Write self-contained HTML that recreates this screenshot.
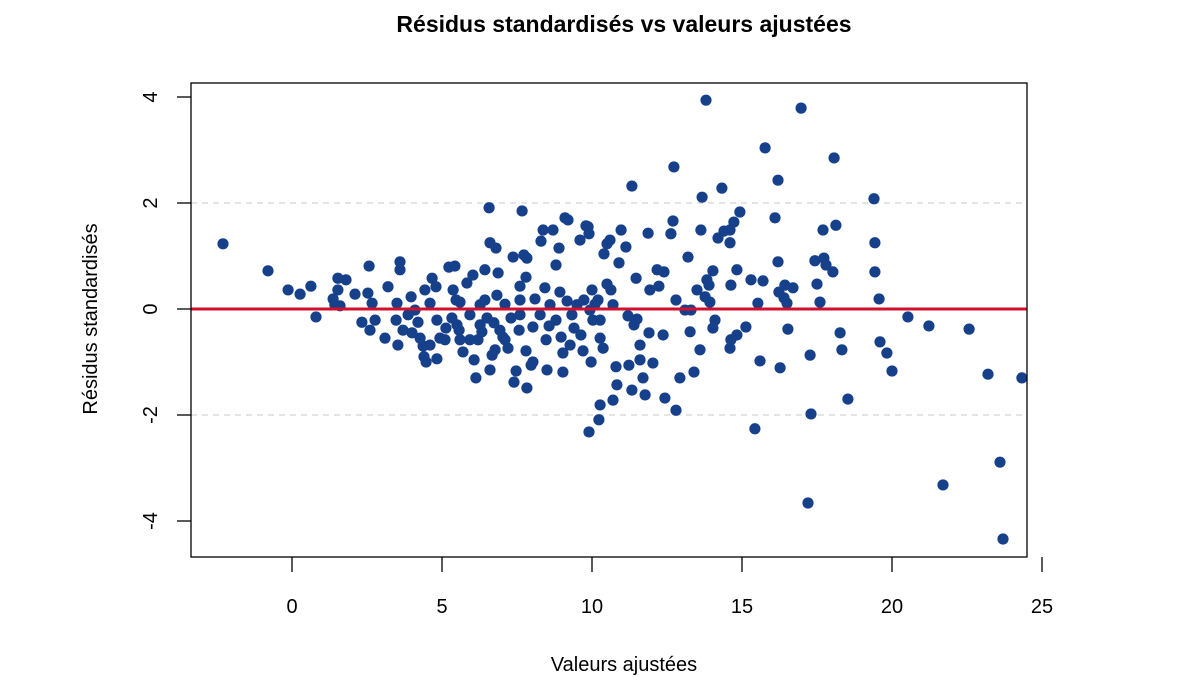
<!DOCTYPE html>
<html><head><meta charset="utf-8"><style>
body{margin:0;background:#fff;}
svg{display:block;font-family:"Liberation Sans",Arial,sans-serif;}
</style></head><body>
<svg id="chart" width="1190" height="695">
<text x="624" y="32" text-anchor="middle" font-size="23" font-weight="bold">Résidus standardisés vs valeurs ajustées</text>
<text x="624" y="671" text-anchor="middle" font-size="20">Valeurs ajustées</text>
<text transform="translate(97,319) rotate(-90)" text-anchor="middle" font-size="20">Résidus standardisés</text>
<g id="grid"></g><g id="axes"></g><g id="pts"></g>
<rect x="191" y="83" width="836" height="474" fill="none" stroke="#000" stroke-width="1.3"/>
</svg>
<script>
const xTicks=[0,5,10,15,20,25];
const yTicks=[-4,-2,0,2,4];
const gridY=[-2,2];
const xs=[-2.3,-0.8,-0.13,0.27,0.63,0.8,1.37,1.43,1.53,1.53,1.8,1.6,2.1,2.33,2.57,2.53,2.67,2.77,2.6,3.1,3.2,3.6,3.6,3.5,3.47,3.7,3.53,3.97,3.87,4.0,4.2,4.37,4.4,4.43,4.6,4.67,4.8,4.83,4.93,4.83,4.47,5.13,5.23,5.43,5.37,5.47,5.33,5.5,5.6,5.7,5.93,5.83,6.03,6.07,6.13,6.2,6.33,6.43,6.43,6.6,6.57,6.5,6.6,6.67,6.73,6.83,6.8,6.87,7.1,7.03,7.2,7.3,7.37,7.4,7.47,7.57,7.6,7.67,7.73,7.8,7.83,7.8,7.83,7.97,8.03,8.03,8.1,8.3,8.37,8.47,8.5,8.57,8.6,8.7,8.8,8.9,8.97,9.03,9.03,9.1,9.2,9.17,9.33,9.4,9.5,9.6,9.63,9.7,9.73,9.8,9.87,9.9,9.9,9.97,10.0,10.03,10.1,10.2,10.23,10.27,10.27,10.37,10.4,10.5,10.6,10.5,10.63,10.7,10.8,10.83,10.7,10.9,10.97,11.13,11.2,11.23,11.33,11.33,11.4,11.47,11.5,11.6,11.6,11.7,11.77,11.87,11.9,11.93,12.03,12.17,12.23,12.37,12.43,12.4,12.73,12.7,12.63,12.8,12.8,12.93,13.2,13.1,13.27,13.3,13.4,13.5,13.6,13.63,13.67,13.77,13.8,13.83,13.9,13.93,14.03,14.03,14.1,14.33,14.2,14.4,14.6,14.6,14.73,14.93,14.63,14.63,14.6,14.83,14.83,15.13,15.3,15.43,15.53,15.6,15.77,15.7,16.1,16.2,16.2,16.23,16.27,16.4,16.5,16.43,16.53,16.7,16.97,17.27,17.2,17.3,17.43,17.5,17.6,17.7,17.73,17.8,18.07,18.13,18.03,18.27,18.33,18.53,19.4,19.43,19.43,19.57,19.6,19.83,20.0,20.53,21.23,21.7,22.57,23.2,23.6,23.7,24.33,7.1,6.77,5.93,5.57,5.1,4.6,4.27,4.1,5.6,6.27,7.6,8.27,8.8,9.27,9.93,10.27,8.93,8.43,7.6,6.93,6.27];
const ys=[1.23,0.72,0.36,0.28,0.43,-0.15,0.19,0.08,0.58,0.36,0.55,0.06,0.28,-0.25,0.81,0.3,0.11,-0.21,-0.4,-0.55,0.42,0.89,0.74,0.11,-0.21,-0.4,-0.68,0.23,-0.11,-0.45,-0.25,-0.7,-0.9,0.36,0.11,0.58,0.42,-0.21,-0.55,-0.94,-1.0,-0.36,0.79,0.81,0.36,0.17,-0.17,-0.3,-0.58,-0.81,-0.11,0.49,0.64,-0.96,-1.3,-0.58,-0.43,0.17,0.74,1.25,1.91,-0.17,-1.15,-0.87,-0.26,0.26,1.15,0.68,0.09,-0.53,-0.74,-0.17,0.98,-1.38,-1.17,-0.4,0.43,1.85,1.02,0.6,0.96,-0.79,-1.49,-1.06,-0.34,-1.0,0.19,1.28,1.49,-0.58,-1.15,-0.32,0.08,1.49,0.83,1.15,-0.53,-0.83,-1.19,1.72,1.68,0.15,-0.11,-0.36,0.08,1.3,-0.49,-0.79,0.17,1.57,1.55,1.42,-2.32,-1.0,0.36,-0.21,0.09,0.17,-2.09,-1.81,-0.55,-0.74,1.04,1.23,1.3,0.47,0.36,0.08,-1.09,-1.43,-1.72,0.87,1.49,1.17,-0.13,-1.06,2.32,-1.53,-0.3,0.58,-0.19,-0.96,-0.68,-1.3,-1.62,1.43,-0.45,0.36,-1.02,0.74,0.43,-0.49,-1.68,0.7,2.68,1.66,1.42,0.17,-1.91,-1.3,0.98,-0.02,-0.43,-0.02,-1.19,0.36,-0.77,1.49,2.11,0.23,3.94,0.55,0.45,0.13,0.72,-0.36,-0.21,2.28,1.34,1.47,1.49,1.25,1.64,1.83,0.45,-0.58,-0.74,0.74,-0.49,-0.34,0.55,-2.26,0.11,-0.98,3.04,0.53,1.72,2.43,0.89,0.32,-1.11,0.21,0.11,0.45,-0.38,0.4,3.79,-0.87,-3.66,-1.98,0.91,0.47,0.13,1.49,0.96,0.83,2.85,1.58,0.7,-0.45,-0.77,-1.7,2.08,1.25,0.7,0.19,-0.62,-0.83,-1.17,-0.15,-0.32,-3.32,-0.38,-1.23,-2.89,-4.34,-1.3,-0.58,-0.77,-0.58,-0.4,-0.58,-0.68,-0.55,-0.02,0.13,0.08,-0.11,-0.11,-0.21,-0.68,-0.02,-0.21,0.32,0.4,0.17,-0.4,-0.3];
const NS='http://www.w3.org/2000/svg';
function sx(v){return 292+v*30;}
function sy(v){return 309-v*53;}
function mk(tag,attrs,parent){const e=document.createElementNS(NS,tag);for(const k in attrs)e.setAttribute(k,attrs[k]);parent.appendChild(e);return e;}
const grid=document.getElementById('grid'),axes=document.getElementById('axes'),pts=document.getElementById('pts');
gridY.forEach(v=>{
  const l=mk('line',{x1:191,x2:1027,y1:sy(v),y2:sy(v),stroke:'#d3d3d3','stroke-width':1.3,'stroke-dasharray':'6,5'},grid);
  
  
});
xTicks.forEach(v=>{
  const l=mk('line',{x1:sx(v),x2:sx(v),y1:557,y2:572,stroke:'#000','stroke-width':1.3},axes);
  
  
  const t=mk('text',{x:sx(v),y:613,'text-anchor':'middle','font-size':20},axes);
  t.textContent=v;
  
  
});
yTicks.forEach(v=>{
  const l=mk('line',{x1:177,x2:191,y1:sy(v),y2:sy(v),stroke:'#000','stroke-width':1.3},axes);
  
  
  const t=mk('text',{transform:'translate(157,'+sy(v)+') rotate(-90)','text-anchor':'middle','font-size':20},axes);
  t.textContent=v;
  
  
});
xs.forEach((x,i)=>{
  const c=mk('circle',{cx:sx(x),cy:sy(ys[i]),r:5.6,fill:'#17408b'},pts);
  
  
});
const z=mk('line',{x1:191,x2:1027,y1:sy(0),y2:sy(0),stroke:'#d0102c','stroke-width':3},pts);


</script>
</body></html>
